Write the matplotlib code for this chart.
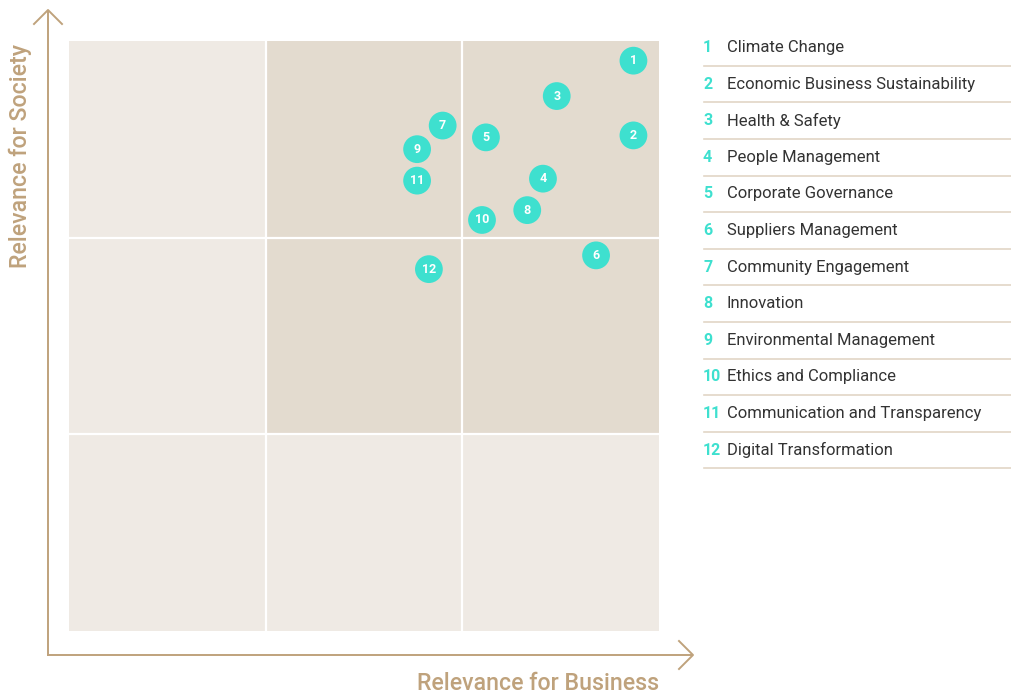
import matplotlib
matplotlib.use("Agg")
import matplotlib.pyplot as plt
from matplotlib.lines import Line2D
from matplotlib.patches import Rectangle

plt.rcParams["font.family"] = ["Roboto", "DejaVu Sans"]

# ── data ──────────────────────────────────────────────────────────
ids = [1, 2, 3, 4, 5, 6, 7, 8, 9, 10, 11, 12]
topics = [
    "Climate Change",
    "Economic Business Sustainability",
    "Health & Safety",
    "People Management",
    "Corporate Governance",
    "Suppliers Management",
    "Community Engagement",
    "Innovation",
    "Environmental Management",
    "Ethics and Compliance",
    "Communication and Transparency",
    "Digital Transformation",
]
business = [2.87, 2.87, 2.48, 2.41, 2.12, 2.68, 1.90, 2.33, 1.77, 2.10, 1.77, 1.83]
society  = [2.90, 2.52, 2.72, 2.30, 2.51, 1.91, 2.57, 2.14, 2.45, 2.09, 2.29, 1.84]

TEAL  = "#3ee0cf"
TAN   = "#bfa27c"
LIGHT = "#efeae4"
DARK  = "#e3dbcf"
W, H = 1011, 693

fig = plt.figure(figsize=(W / 100, H / 100), dpi=100)
fig.patch.set_facecolor("white")

def fx(px):
    return px / W

def fy(py):
    return 1 - py / H

ax = fig.add_axes([fx(69), fy(631), fx(659) - fx(69), fy(41) - fy(631)])
ax.set_xlim(0, 3)
ax.set_ylim(0, 3)
ax.axis("off")

# ── 3x3 matrix background ─────────────────────────────────────────
dark_cells = {(1, 2), (2, 2), (1, 1), (2, 1)}
for i in range(3):
    for j in range(3):
        c = DARK if (i, j) in dark_cells else LIGHT
        ax.add_patch(Rectangle((i, j), 1, 1, facecolor=c, edgecolor="none", zorder=0))
for v in (1, 2):
    ax.axvline(v, color="white", lw=1.6, zorder=1)
    ax.axhline(v, color="white", lw=1.6, zorder=1)

# ── topic bubbles ─────────────────────────────────────────────────
ax.scatter(business, society, s=400, color=TEAL, edgecolor="none", zorder=3,
           clip_on=False)
for n, x, y in zip(ids, business, society):
    ax.text(x, y, str(n), ha="center", va="center", color="white",
            fontsize=9, fontweight="bold", zorder=4)

# ── axis arrows ───────────────────────────────────────────────────
kw = dict(color=TAN, lw=1.4, transform=fig.transFigure)
fig.add_artist(Line2D([fx(48), fx(48)], [fy(655), fy(12)], **kw))
fig.add_artist(Line2D([fx(34), fx(48), fx(62)], [fy(24), fy(10), fy(24)], **kw))
fig.add_artist(Line2D([fx(48), fx(691)], [fy(655), fy(655)], **kw))
fig.add_artist(Line2D([fx(679), fx(693), fx(679)], [fy(641), fy(655), fy(669)], **kw))

fig.text(fx(20), fy(156), "Relevance for Society", rotation=90, ha="center",
         va="center", color=TAN, fontsize=16.7, fontweight="medium")
fig.text(fx(659), fy(683), "Relevance for Business", ha="right", va="center",
         color=TAN, fontsize=16.7, fontweight="medium")

# ── legend list ───────────────────────────────────────────────────
row0, step = 47.5, 36.6
for k, (n, name) in enumerate(zip(ids, topics)):
    yc = row0 + k * step
    fig.text(fx(703), fy(yc), str(n), ha="left", va="center", color=TEAL,
             fontsize=11.5, fontweight="bold")
    fig.text(fx(727), fy(yc), name, ha="left", va="center", color="#333333",
             fontsize=12)
    fig.add_artist(Line2D([fx(704), fx(1011)], [fy(yc + 18.3)] * 2,
                          color="#e2d6c6", lw=1.2, transform=fig.transFigure))

fig.savefig("out.png", dpi=100, facecolor="white")
plt.close()
